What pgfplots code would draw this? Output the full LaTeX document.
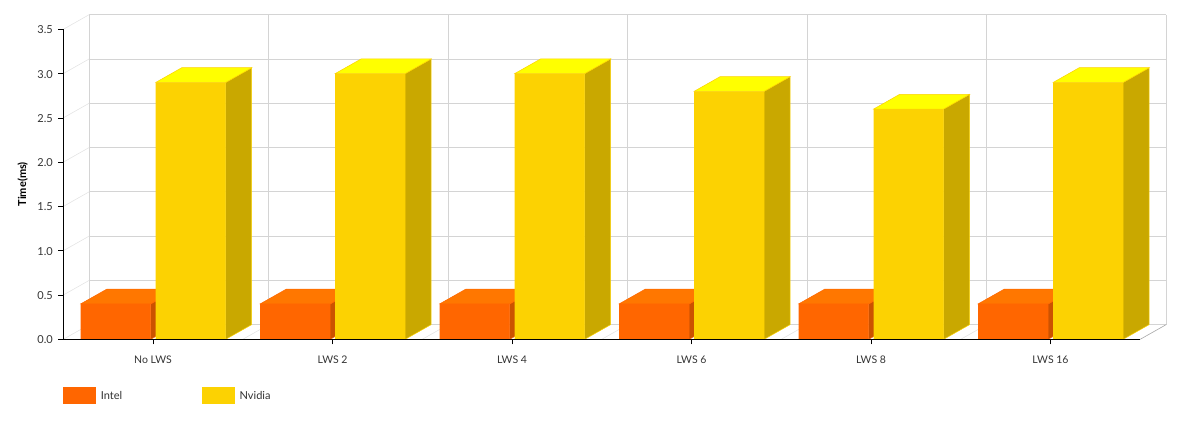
\documentclass[border=0pt]{standalone}
\usepackage{pgfplots}
\usepackage{fontspec}
\setmainfont{Lato}
\pgfplotsset{compat=1.18}
\definecolor{inFront}{HTML}{FF6600}
\definecolor{inTop}{HTML}{FF7700}
\definecolor{inSide}{HTML}{CC5200}
\definecolor{nvFront}{HTML}{FCD202}
\definecolor{nvTop}{HTML}{FFFF00}
\definecolor{nvSide}{HTML}{C9A800}
\definecolor{wall}{HTML}{D4D4D4}
\definecolor{wallS}{HTML}{E4E4E4}
\definecolor{txt}{HTML}{333333}
% data offsets of the 3D depth
\def\dx{0.1448}
\def\dy{0.166}
% #1 category, #2 value, #3 centre offset, #4 top, #5 side, #6 edge
\newcommand{\depth}[6]{%
  \pgfmathsetmacro\xl{#1+#3-0.195}%
  \pgfmathsetmacro\xr{#1+#3+0.195}%
  \pgfmathsetmacro\xlb{\xl+\dx}%
  \pgfmathsetmacro\xrb{\xr+\dx}%
  \pgfmathsetmacro\yb{#2+\dy}%
  \addplot[forget plot,fill=#5,draw=#6,line width=.5pt] coordinates {(\xr,0) (\xrb,\dy) (\xrb,\yb) (\xr,#2)} --cycle;
  \addplot[forget plot,fill=#4,draw=#6,line width=.5pt] coordinates {(\xl,#2) (\xlb,\yb) (\xrb,\yb) (\xr,#2)} --cycle;
}
\begin{document}
\begin{tikzpicture}
\path[use as bounding box] (-63.3pt,-83.7pt) rectangle (1123.7pt,339.3pt);
\begin{axis}[
  at={(0pt,0pt)},anchor=south west,
  scale only axis,width=1077pt,height=310pt,
  xmin=-0.5,xmax=5.5,ymin=0,ymax=3.5,
  clip=false,
  axis on top,
  axis x line*=bottom,axis y line*=left,
  axis line style={black,line width=.8pt,-},
  xtick={0,1,2,3,4,5},
  xticklabels={No LWS,LWS 2,LWS 4,LWS 6,LWS 8,LWS 16},
  ytick={0,0.5,1,1.5,2,2.5,3,3.5},
  yticklabels={0.0,0.5,1.0,1.5,2.0,2.5,3.0,3.5},
  tick align=outside,
  tick style={black,line width=.7pt},
  major tick length=5pt,
  xticklabel style={font=\fontsize{10.5}{12}\selectfont,text=txt,yshift=-8pt},
  yticklabel style={font=\fontsize{11}{12}\selectfont,text=txt,xshift=-2pt,yshift=-0.5pt},
  ylabel={\textbf{Time(ms)}},
  ylabel style={font=\fontsize{11}{12}\selectfont,text=black,at={(0,0.5)},anchor=south,yshift=32pt},
  legend style={at={(0,0)},anchor=north west,yshift=-48pt,draw=none,inner sep=0pt,outer sep=0pt,
    font=\fontsize{11}{13}\selectfont,text=txt,
    nodes={inner ysep=0pt}},
  legend columns=2,
  legend cell align=left,
  /tikz/column 2/.style={column sep=78pt},
  legend image code/.code={\fill[#1] (0pt,-8.5pt) rectangle (33pt,8.5pt);\path (35.5pt,0);},
]
% back wall and floor
\pgfplotsinvokeforeach{0.5,1,1.5,2,2.5,3,3.5}{
  \addplot[forget plot,wall,line width=.6pt] coordinates {(-0.5+\dx,#1+\dy) (5.5+\dx,#1+\dy)};
}
\addplot[forget plot,wall,line width=.6pt] coordinates {(-0.5+\dx,\dy) (5.5+\dx,\dy)};
\pgfplotsinvokeforeach{0,0.5,1,1.5,2,2.5,3,3.5}{
  \addplot[forget plot,wallS,line width=.6pt] coordinates {(-0.5,#1) (-0.5+\dx,#1+\dy)};
}
\pgfplotsinvokeforeach{-0.5,0.5,1.5,2.5,3.5,4.5,5.5}{
  \addplot[forget plot,wall,line width=.6pt] coordinates {(#1+\dx,\dy) (#1+\dx,3.5+\dy)};
}
\pgfplotsinvokeforeach{0.5,1.5,2.5,3.5,4.5}{
  \addplot[forget plot,wallS,line width=.6pt] coordinates {(#1,0) (#1+\dx,\dy)};
}
\addplot[forget plot,gray!70,line width=.6pt] coordinates {(5.5,0) (5.5+\dx,\dy)};
% Intel
\depth{0}{0.4}{-0.2078}{inTop}{inSide}{inFront}
\depth{1}{0.4}{-0.2078}{inTop}{inSide}{inFront}
\depth{2}{0.4}{-0.2078}{inTop}{inSide}{inFront}
\depth{3}{0.4}{-0.2078}{inTop}{inSide}{inFront}
\depth{4}{0.4}{-0.2078}{inTop}{inSide}{inFront}
\depth{5}{0.4}{-0.2078}{inTop}{inSide}{inFront}
\addplot[ybar,bar width=70pt,bar shift=-37.3pt,fill=inFront,draw=none] coordinates {(0,0.4) (1,0.4) (2,0.4) (3,0.4) (4,0.4) (5,0.4)};
\addlegendentry{Intel}
% Nvidia
\depth{0}{2.9}{0.2100}{nvTop}{nvSide}{nvFront}
\depth{1}{3.0}{0.2100}{nvTop}{nvSide}{nvFront}
\depth{2}{3.0}{0.2100}{nvTop}{nvSide}{nvFront}
\depth{3}{2.8}{0.2100}{nvTop}{nvSide}{nvFront}
\depth{4}{2.6}{0.2100}{nvTop}{nvSide}{nvFront}
\depth{5}{2.9}{0.2100}{nvTop}{nvSide}{nvFront}
\addplot[ybar,bar width=70pt,bar shift=37.7pt,fill=nvFront,draw=none] coordinates {(0,2.9) (1,3.0) (2,3.0) (3,2.8) (4,2.6) (5,2.9)};
\addlegendentry{Nvidia}
\end{axis}
\end{tikzpicture}
\end{document}
